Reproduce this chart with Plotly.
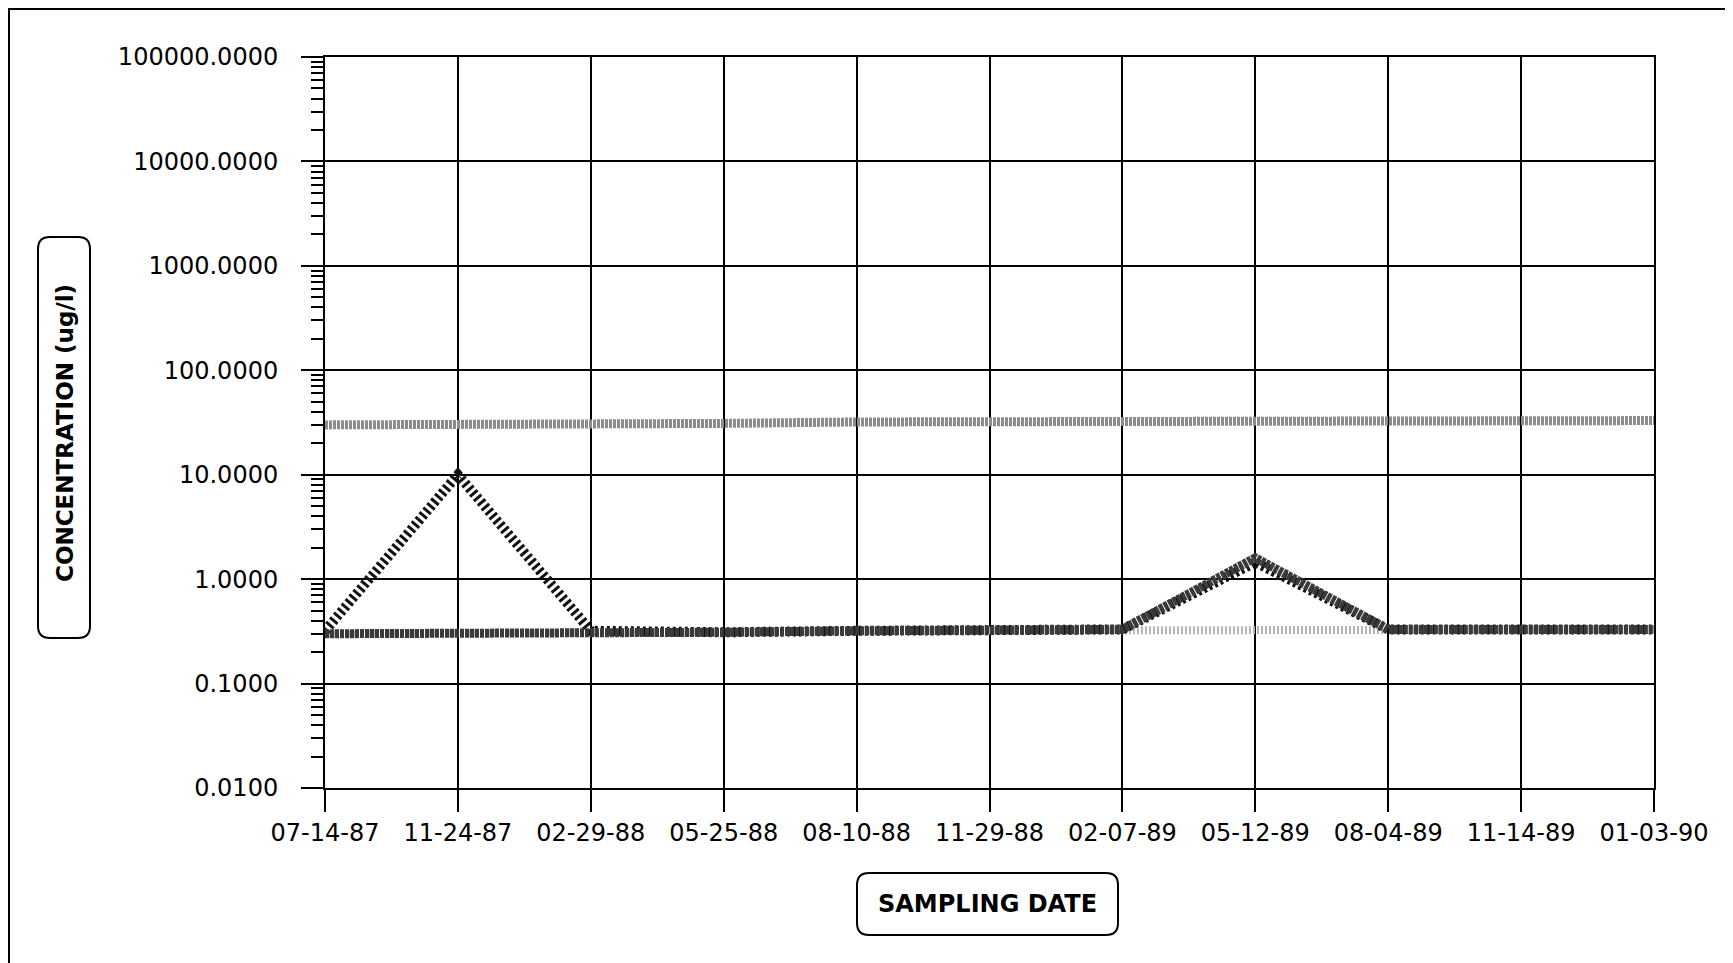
import plotly.graph_objects as go

dates = ["07-14-87", "11-24-87", "02-29-88", "05-25-88", "08-10-88", "11-29-88",
         "02-07-89", "05-12-89", "08-04-89", "11-14-89", "01-03-90"]
series_upper = [30, 30, 31, 31, 32, 32, 33, 33, 33, 33, 33]
series_light = [0.30, 0.30, 0.31, 0.31, 0.32, 0.32, 0.33, 0.33, 0.33, 0.33, 0.33]
series_striped = [0.32, 10.0, 0.32, 0.31, 0.32, 0.32, 0.33, 1.45, 0.33, 0.33, 0.33]
series_dark = [0.30, 0.30, 0.31, 0.31, 0.32, 0.32, 0.33, 1.6, 0.33, 0.33, 0.33]
y_tickvals = [0.01, 0.1, 1, 10, 100, 1000, 10000, 100000]

OFF = 8  # default body margin of the page
W, H = 1733 - OFF, 963 - OFF
L, R, T, B = 317, 79, 49, 175
PW, PH = W - L - R, H - T - B


def px(x):  # page pixel -> paper
    return (x - OFF - L) / PW


def py(y):
    return (H - B - (y - OFF)) / PH


def rounded(x0, y0, x1, y1, r=12):
    rx, ry = r / PW, r / PH
    a, b, c, d = px(x0), px(x1), py(y1), py(y0)
    return (f"M {a+rx},{d} L {b-rx},{d} Q {b},{d} {b},{d-ry} L {b},{c+ry} "
            f"Q {b},{c} {b-rx},{c} L {a+rx},{c} Q {a},{c} {a},{c+ry} "
            f"L {a},{d-ry} Q {a},{d} {a+rx},{d} Z")


fig = go.Figure()
fig.add_trace(go.Scatter(x=dates, y=series_upper, mode="lines",
                         line=dict(color="#8c8c8c", width=9, dash="3px,1px"), showlegend=False))
fig.add_trace(go.Scatter(x=dates, y=series_light, mode="lines",
                         line=dict(color="#b5b5b5", width=8, dash="2px,2px"), showlegend=False))
fig.add_trace(go.Scatter(x=dates, y=series_striped, mode="lines",
                         line=dict(color="#111111", width=10, dash="3px,3px"), showlegend=False))
fig.add_trace(go.Scatter(x=dates, y=series_dark, mode="lines",
                         line=dict(color="#3a3a3a", width=9, dash="4px,1px"), showlegend=False))

font = dict(family="DejaVu Sans, sans-serif", color="black")

fig.update_layout(
    width=W, height=H,
    margin=dict(l=L, r=R, t=T, b=B),
    paper_bgcolor="white", plot_bgcolor="white",
    font=dict(**font, size=24),
    xaxis=dict(type="category", range=[0, len(dates) - 1],
               showgrid=True, gridcolor="black", gridwidth=1.5,
               showline=True, linecolor="black", linewidth=2, mirror=True,
               ticks="outside", ticklen=22, tickwidth=2, tickcolor="black",
               ticklabelstandoff=0, tickfont=dict(size=24)),
    yaxis=dict(type="log", range=[-2, 5], tickvals=y_tickvals, tickformat=".4f",
               showgrid=True, gridcolor="black", gridwidth=1.5,
               showline=True, linecolor="black", linewidth=2, mirror=True,
               ticks="outside", ticklen=22, tickwidth=2, tickcolor="black",
               ticklabelstandoff=18, tickfont=dict(size=24),
               minor=dict(ticks="outside", ticklen=12, tickwidth=1.5, tickcolor="black",
                          dtick="D1", showgrid=False)),
    shapes=[
        dict(type="path", xref="paper", yref="paper",
             path=f"M {px(9)},{py(963)} L {px(9)},{py(9)} L {px(1733)},{py(9)}",
             line=dict(color="black", width=2)),
        dict(type="path", xref="paper", yref="paper",
             path=rounded(38, 237, 90, 638), line=dict(color="black", width=2)),
        dict(type="path", xref="paper", yref="paper",
             path=rounded(857, 873, 1118, 935), line=dict(color="black", width=2)),
    ],
    annotations=[
        dict(text="<b>CONCENTRATION (ug/l)</b>", xref="paper", yref="paper",
             x=px(65), y=py(433), textangle=-90, showarrow=False,
             xanchor="center", yanchor="middle", font=dict(**font, size=23)),
        dict(text="<b>SAMPLING DATE</b>", xref="paper", yref="paper",
             x=px(987), y=py(904), showarrow=False,
             xanchor="center", yanchor="middle", font=dict(**font, size=24)),
    ],
)

fig.write_html("out.html")
